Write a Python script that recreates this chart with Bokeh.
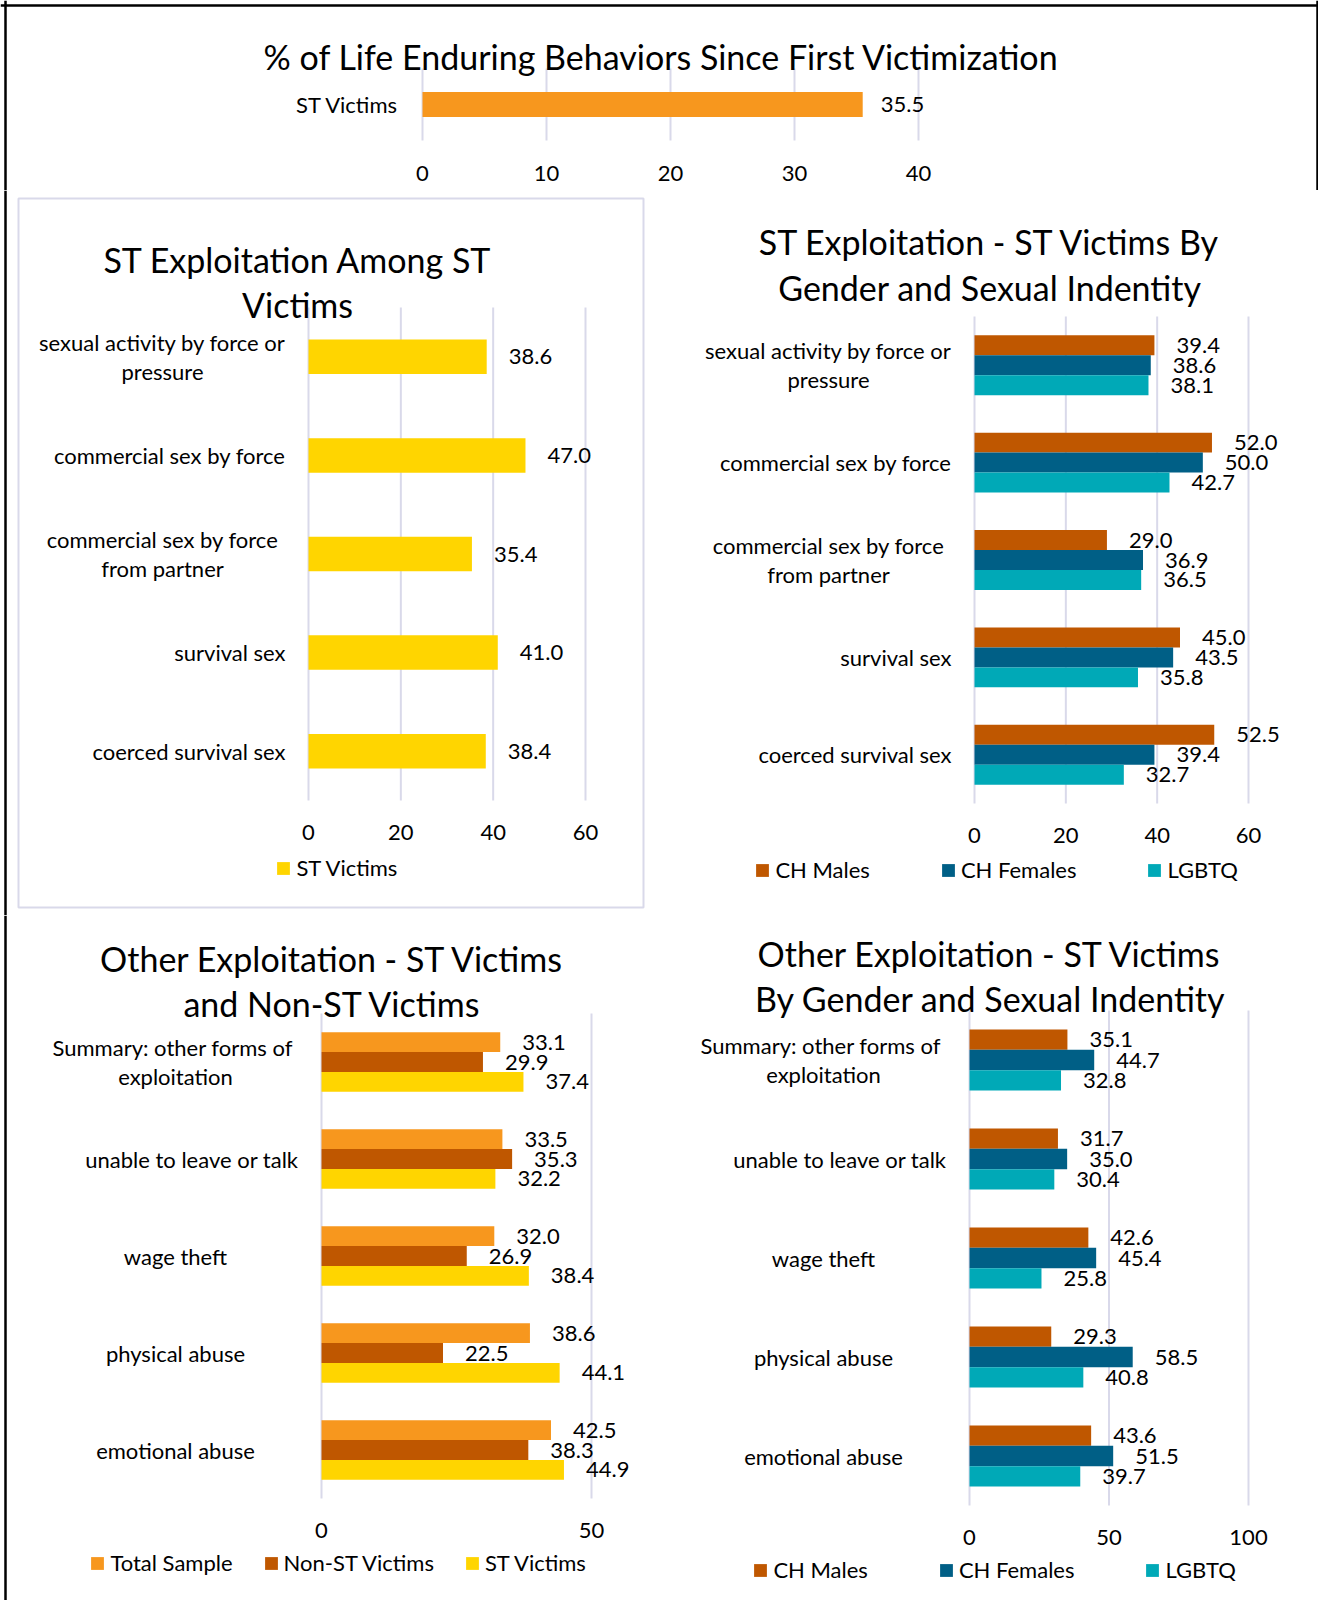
from bokeh.plotting import figure
from bokeh.models import (ColumnDataSource, LabelSet, Label, Range1d,
                          Legend, LegendItem, BoxAnnotation, Span)
from bokeh.transform import dodge
from bokeh.layouts import column, row
from bokeh.embed import file_html
from bokeh.resources import INLINE
from bokeh.core.properties import value

# ---------------- data ----------------
TOP_TITLE = "% of Life Enduring Behaviors Since First Victimization"
TOP_CATEGORIES = ["ST Victims"]
TOP_VALUES = [35.5]
TOP_TICKS = [0, 10, 20, 30, 40]

ST_CATEGORIES = ["sexual activity by force or\npressure", "commercial sex by force",
                 "commercial sex by force\nfrom partner", "survival sex", "coerced survival sex"]
ST_VICTIMS = [38.6, 47.0, 35.4, 41.0, 38.4]
ST_TICKS = [0, 20, 40, 60]

GROUP_NAMES = ["CH Males", "CH Females", "LGBTQ"]
ST_CH_MALES = [39.4, 52.0, 29.0, 45.0, 52.5]
ST_CH_FEMALES = [38.6, 50.0, 36.9, 43.5, 39.4]
ST_LGBTQ = [38.1, 42.7, 36.5, 35.8, 32.7]

OTHER_CATEGORIES = ["Summary:  other forms of\nexploitation", "unable to leave or talk",
                    "wage theft", "physical abuse", "emotional abuse"]
SAMPLE_NAMES = ["Total Sample", "Non-ST Victims", "ST Victims"]
OTHER_TOTAL = [33.1, 33.5, 32.0, 38.6, 42.5]
OTHER_NON_ST = [29.9, 35.3, 26.9, 22.5, 38.3]
OTHER_ST = [37.4, 32.2, 38.4, 44.1, 44.9]
OTHER_TICKS_C = [0, 50]

OTHER_CH_MALES = [35.1, 31.7, 42.6, 29.3, 43.6]
OTHER_CH_FEMALES = [44.7, 35.0, 45.4, 58.5, 51.5]
OTHER_LGBTQ = [32.8, 30.4, 25.8, 40.8, 39.7]
OTHER_TICKS_D = [0, 50, 100]

# ---------------- style ----------------
FONT = "Lato"
TXT = "22px"
TITLE_SIZE = "34px"
GRID = "#D9D9EA"
ORANGE = "#F7971E"
YELLOW = "#FFD500"
DARK_ORANGE = "#BF5700"
DARK_BLUE = "#005F86"
TEAL = "#00A9B7"
LINE = 29
BORDER_LEFT, BORDER_TOP, BORDER_RIGHT = 5, 5, 1317


def panel(canvas, zero_px, end_px, x_end, f_top, f_bot, ticks, cats, names, series, colors,
          bar_frac, titles, right_aligned, right_off=-23, center_off=-146, gap=22,
          tick_dy=32, legend=None, box=None, right_border=False):
    cx0, cy0, cx1, cy1 = canvas
    n = len(cats)
    ppu = (end_px - zero_px) / x_end
    band = (f_bot - f_top) / n
    p = figure(width=cx1 - cx0, height=cy1 - cy0,
               x_range=Range1d((cx0 - zero_px) / ppu, (cx1 - zero_px) / ppu),
               y_range=Range1d((f_bot - cy1) / band - 0.5, (f_bot - cy0) / band - 0.5),
               min_border=0, x_axis_type=None, y_axis_type=None,
               output_backend="svg", toolbar_location=None)
    p.background_fill_color = "white"
    p.border_fill_color = "white"
    p.outline_line_color = None

    sx = lambda x: x - cx0
    sy = lambda y: cy1 - y

    # vertical grid lines and tick labels (from the tick list, through the x scale)
    gsrc = ColumnDataSource(dict(x=list(ticks), lab=[str(t) for t in ticks]))
    p.segment(x0="x", x1="x", y0=-0.5, y1=n - 0.5, source=gsrc,
              line_color=GRID, line_width=2)
    p.add_layout(LabelSet(x="x", y=-0.5, text="lab", source=gsrc, y_offset=-tick_dy,
                          text_align="center", text_baseline="middle",
                          text_font=value(FONT), text_font_size=value(TXT),
                          text_color="black"))

    data = {"cat": list(cats), "pos": [n - 1 - i for i in range(n)]}
    m = len(series)
    for k, vals in enumerate(series):
        data[f"s{k}"] = list(vals)
        data[f"t{k}"] = [f"{v:.1f}" for v in vals]
    src = ColumnDataSource(data)

    rends = []
    for k in range(m):
        off = ((m - 1) / 2 - k) * bar_frac
        r = p.hbar(y=dodge("pos", off), left=0, right=f"s{k}",
                   height=bar_frac, source=src, fill_color=colors[k], line_color=None)
        rends.append(r)
        p.add_layout(LabelSet(x=f"s{k}", y=dodge("pos", off), text=f"t{k}",
                              source=src, x_offset=gap, text_align="left",
                              text_baseline="middle", text_font=value(FONT),
                              text_font_size=value(TXT), text_color="black"))

    # category labels
    for mode in ("right", "center"):
        rows = {"pos": [], "text": [], "yoff": []}
        for i, c in enumerate(cats):
            if (mode == "right") != (c in right_aligned):
                continue
            lines = c.split("\n")
            nl = len(lines)
            for j, ln in enumerate(lines):
                rows["pos"].append(n - 1 - i)
                rows["text"].append(ln)
                rows["yoff"].append(((nl - 1) / 2 - j) * LINE)
        if not rows["pos"]:
            continue
        p.add_layout(LabelSet(x=0, y="pos", text="text", y_offset="yoff",
                              x_offset=(right_off if mode == "right" else center_off),
                              source=ColumnDataSource(rows), text_align=mode,
                              text_baseline="middle", text_font=value(FONT),
                              text_font_size=value(TXT), text_color="black"))

    for txt, tx, ty in titles:
        p.add_layout(Label(x=sx(tx), y=sy(ty - 2), x_units="screen", y_units="screen", text=txt,
                           text_align="center", text_baseline="middle", text_font=FONT,
                           text_font_size=TITLE_SIZE, text_color="black"))

    if legend is not None:
        sq_left, cy, spacing = legend
        lg = Legend(items=[LegendItem(label=nm, renderers=[r]) for nm, r in zip(names, rends)],
                    location=(sx(sq_left - 1.6), sy(cy + 13)), orientation="horizontal",
                    spacing=spacing, glyph_width=16, glyph_height=16, label_standoff=5,
                    padding=0, margin=0, border_line_color=None, background_fill_alpha=0,
                    label_text_font=FONT, label_text_font_size=TXT, label_text_color="black",
                    label_height=26)
        p.add_layout(lg)

    if box is not None:
        bx0, by0, bx1, by1 = box
        p.add_layout(BoxAnnotation(left=sx(bx0), right=sx(bx1), top=sy(by0), bottom=sy(by1),
                                   left_units="screen", right_units="screen",
                                   top_units="screen", bottom_units="screen",
                                   fill_alpha=0, line_color=GRID, line_alpha=1, line_width=2))

    # outer page border
    if cx0 <= BORDER_LEFT <= cx1:
        p.add_layout(Span(location=sx(BORDER_LEFT), location_units="screen", dimension="height",
                          line_color="black", line_width=2.5))
    if right_border:
        p.add_layout(Span(location=sx(BORDER_RIGHT), location_units="screen", dimension="height",
                          line_color="black", line_width=2.5))
    if cy0 <= BORDER_TOP <= cy1:
        p.add_layout(Span(location=sy(BORDER_TOP), location_units="screen", dimension="width",
                          line_color="black", line_width=2.5))
    return p


top = panel((0, 0, 1318, 190), 422, 918, 40, 68, 140, TOP_TICKS, TOP_CATEGORIES,
            ["ST Victims"], [TOP_VALUES], [ORANGE], 0.35,
            [(TOP_TITLE, 661, 58)], set(TOP_CATEGORIES), right_off=-24, gap=18, tick_dy=33,
            right_border=True)

pa = panel((0, 190, 655, 915), 308, 585, 60, 307, 800, ST_TICKS, ST_CATEGORIES,
           ["ST Victims"], [ST_VICTIMS], [YELLOW], 0.35,
           [("ST Exploitation Among ST", 297.5, 261), ("Victims", 297, 306)],
           {c for c in ST_CATEGORIES if "\n" not in c},
           legend=(277, 868, 75), box=(18, 198, 643, 907))

pb = panel((655, 190, 1318, 915), 974, 1248, 60, 316, 803, ST_TICKS, ST_CATEGORIES,
           GROUP_NAMES, [ST_CH_MALES, ST_CH_FEMALES, ST_LGBTQ], [DARK_ORANGE, DARK_BLUE, TEAL],
           0.205,
           [("ST Exploitation - ST Victims By", 989.5, 242.5),
            ("Gender and Sexual Indentity", 989.5, 288.6)],
           {c for c in ST_CATEGORIES if "\n" not in c},
           legend=(756, 870, 70))

pc = panel((0, 915, 655, 1600), 321, 591, 50, 1013, 1498, OTHER_TICKS_C, OTHER_CATEGORIES,
           SAMPLE_NAMES, [OTHER_TOTAL, OTHER_NON_ST, OTHER_ST], [ORANGE, DARK_ORANGE, YELLOW],
           0.205,
           [("Other Exploitation - ST Victims", 332, 960), ("and Non-ST Victims", 332, 1005)],
           {"unable to leave or talk"},
           legend=(91, 1563, 30))

pd_ = panel((655, 915, 1318, 1600), 969, 1248, 100, 1010, 1505, OTHER_TICKS_D, OTHER_CATEGORIES,
            GROUP_NAMES, [OTHER_CH_MALES, OTHER_CH_FEMALES, OTHER_LGBTQ],
            [DARK_ORANGE, DARK_BLUE, TEAL], 0.205,
            [("Other Exploitation - ST Victims", 989.5, 954.7),
             ("By Gender and Sexual Indentity", 990, 999.8)],
            {"unable to leave or talk"},
            legend=(754, 1570, 70))

layout = column(top, row(pa, pb), row(pc, pd_))
open("out.html", "w").write(file_html(layout, INLINE))
